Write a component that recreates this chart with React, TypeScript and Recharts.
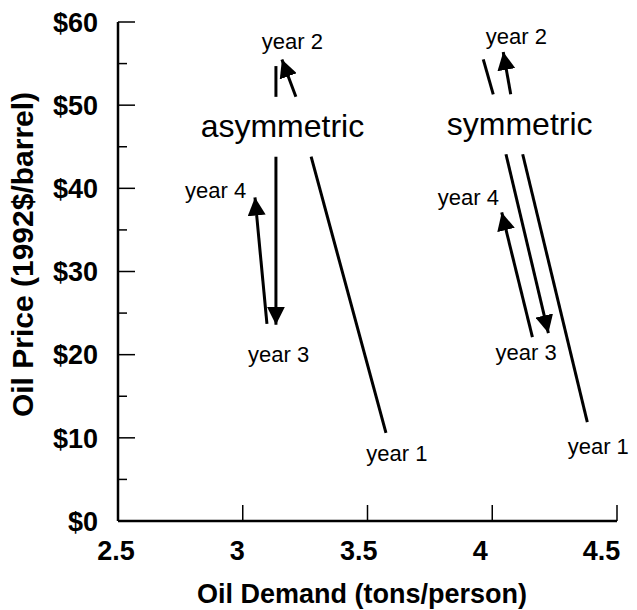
import React from 'react';
import { ComposedChart, Line, Scatter, XAxis, YAxis, Label } from 'recharts';

// ---- axis ticks ----
const xTicks = [2.5, 3, 3.5, 4, 4.5];
const yTicks = [0, 5, 10, 15, 20, 25, 30, 35, 40, 45, 50, 55, 60];
const yMajorTicks = [0, 10, 20, 30, 40, 50, 60];

// ---- asymmetric case (x: tons/person, y: $/barrel) ----
const asymYear1Lower = [{ x: 3.574, y: 10.6 }, { x: 3.274, y: 43.8 }];
const asymYear2Upper = [{ x: 3.213, y: 51.0 }, { x: 3.157, y: 55.5 }];
const asymYear3Upper = [{ x: 3.133, y: 54.7 }, { x: 3.133, y: 51.0 }];
const asymYear3Lower = [{ x: 3.133, y: 43.8 }, { x: 3.133, y: 23.6 }];
const asymYear4 = [{ x: 3.097, y: 23.7 }, { x: 3.049, y: 38.9 }];

// ---- symmetric case ----
const symYear1Lower = [{ x: 4.381, y: 11.9 }, { x: 4.122, y: 44.1 }];
const symYear2Upper = [{ x: 4.074, y: 51.3 }, { x: 4.044, y: 56.4 }];
const symYear3Upper = [{ x: 3.964, y: 55.5 }, { x: 4.004, y: 51.3 }];
const symYear3Lower = [{ x: 4.055, y: 44.1 }, { x: 4.225, y: 22.6 }];
const symYear4 = [{ x: 4.161, y: 22.1 }, { x: 4.038, y: 37.1 }];

// ---- annotations ----
const yearLabels = [
  { x: 3.199, y: 56.8, text: 'year 2' },
  { x: 4.097, y: 57.3, text: 'year 2' },
  { x: 2.891, y: 38.8, text: 'year 4' },
  { x: 3.904, y: 38.0, text: 'year 4' },
  { x: 3.144, y: 19.15, text: 'year 3' },
  { x: 4.136, y: 19.35, text: 'year 3' },
  { x: 3.618, y: 7.25, text: 'year 1' },
  { x: 4.425, y: 8.05, text: 'year 1' },
];
const caseLabels = [
  { x: 3.159, y: 46.2, text: 'asymmetric' },
  { x: 4.11, y: 46.4, text: 'symmetric' },
];

const FONT = '"Liberation Sans", Arial, Helvetica, sans-serif';

const plainSegments = [asymYear1Lower, asymYear3Upper, symYear1Lower, symYear3Upper];
const arrowSegments = [asymYear2Upper, asymYear3Lower, asymYear4, symYear2Upper, symYear3Lower, symYear4];

const XTick = (props: any) => {
  const { x, y, payload } = props;
  const lx = x - 2 - 0.027 * (x - 118);
  return (
    <g>
      <line x1={x} y1={y} x2={x} y2={y - 16} stroke="#000" strokeWidth={1.5} />
      <text x={lx} y={y + 39} textAnchor="middle" fontFamily={FONT} fontWeight="bold" fontSize={27} fill="#000">
        {payload.value}
      </text>
    </g>
  );
};

const YTick = (props: any) => {
  const { x, y, payload } = props;
  const major = yMajorTicks.includes(payload.value);
  return (
    <g>
      <line x1={x} y1={y} x2={x + (major ? 17 : 9)} y2={y} stroke="#000" strokeWidth={1.5} />
      {major && (
        <text x={x - 20} y={y} dy="0.36em" textAnchor="end" fontFamily={FONT} fontWeight="bold" fontSize={27} fill="#000">
          {'$' + payload.value}
        </text>
      )}
    </g>
  );
};

const XTitle = () => (
  <text x={362} y={603} textAnchor="middle" fontFamily={FONT} fontWeight="bold" fontSize={27} fill="#000">
    Oil Demand (tons/person)
  </text>
);

const YTitle = () => (
  <text
    x={33}
    y={254.5}
    transform="rotate(-90 33 254.5)"
    textAnchor="middle"
    fontFamily={FONT}
    fontWeight="bold"
    fontSize={30}
    fill="#000"
  >
    Oil Price (1992$/barrel)
  </text>
);

const YearText = (props: any) => (
  <text x={props.cx} y={props.cy} textAnchor="middle" fontFamily={FONT} fontSize={22} fill="#000">
    {props.payload.text}
  </text>
);

const CaseText = (props: any) => (
  <text x={props.cx} y={props.cy} textAnchor="middle" fontFamily={FONT} fontSize={32} fill="#000">
    {props.payload.text}
  </text>
);

export default function App() {
  return (
    <div style={{ position: 'absolute', left: 0, top: 0, width: 637, height: 610, background: '#fff' }}>
      <svg width={0} height={0} style={{ position: 'absolute' }}>
        <defs>
          <marker
            id="arrowHead"
            markerWidth={18}
            markerHeight={18}
            refX={18}
            refY={9}
            orient="auto"
            markerUnits="userSpaceOnUse"
          >
            <path d="M0,0 L18,9 L0,18 Z" fill="#000" />
          </marker>
        </defs>
      </svg>
      <ComposedChart width={637} height={610} margin={{ top: 22, right: 20, left: 0, bottom: 0 }}>
        <XAxis
          type="number"
          dataKey="x"
          domain={[2.5, 4.5]}
          ticks={xTicks}
          interval={0}
          height={89}
          tickSize={0}
          tickMargin={0}
          tick={<XTick />}
          axisLine={{ stroke: '#000', strokeWidth: 2.5 }}
        >
          <Label content={<XTitle />} />
        </XAxis>
        <YAxis
          type="number"
          dataKey="y"
          domain={[0, 60]}
          ticks={yTicks}
          interval={0}
          width={118}
          tickSize={0}
          tickMargin={0}
          tick={<YTick />}
          axisLine={{ stroke: '#000', strokeWidth: 2.5 }}
        >
          <Label content={<YTitle />} />
        </YAxis>
        {plainSegments.map((seg, i) => (
          <Line
            key={'p' + i}
            data={seg}
            dataKey="y"
            type="linear"
            stroke="#000"
            strokeWidth={3}
            dot={false}
            activeDot={false}
            isAnimationActive={false}
          />
        ))}
        {arrowSegments.map((seg, i) => (
          <Line
            key={'a' + i}
            data={seg}
            dataKey="y"
            type="linear"
            stroke="#000"
            strokeWidth={3}
            dot={false}
            activeDot={false}
            markerEnd="url(#arrowHead)"
            isAnimationActive={false}
          />
        ))}
        <Scatter data={yearLabels} dataKey="y" shape={<YearText />} isAnimationActive={false} />
        <Scatter data={caseLabels} dataKey="y" shape={<CaseText />} isAnimationActive={false} />
      </ComposedChart>
    </div>
  );
}
